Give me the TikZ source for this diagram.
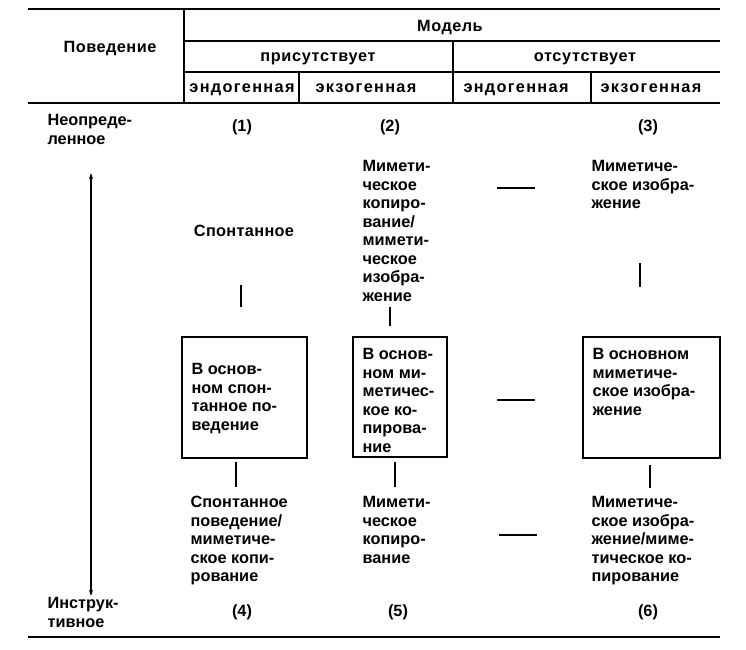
\documentclass[tikz,border=0pt]{standalone}
\usepackage{fontspec}
\setmainfont{Liberation Sans}
\usetikzlibrary{arrows.meta}
\begin{document}
\begin{tikzpicture}[x=1pt,y=-1pt,line width=1.2pt,
  bt/.style={inner sep=0pt,font=\fontsize{16.3}{18.5}\selectfont\bfseries,align=left,text height=11.5pt,text depth=3.5pt},
  hd/.style={bt,font=\fontsize{16.3}{18.5}\selectfont\bfseries\addfontfeature{LetterSpace=#1}},
  tl/.style={inner sep=0pt,font=\fontsize{16.3}{18.5}\selectfont\bfseries,align=left,anchor=north west},
  boxx/.style={draw,line width=2pt,inner sep=0pt,anchor=north west},
  thick rule/.style={line width=1.6pt},
  tick/.style={line width=1.3pt}]
\useasboundingbox (0,0) rectangle (746,649);
% table rules
\draw[thick rule] (28,9) -- (720,9);
\draw (184,9) -- (184,103);
\draw (184,41) -- (720,41);
\draw (453,41) -- (453,103);
\draw (184,72) -- (720,72);
\draw (299,72) -- (299,103);
\draw (591,72) -- (591,103);
\draw[thick rule] (28,103) -- (720,103);
\draw[thick rule] (28,637) -- (720,637);
% headers
\node[hd=3] (beh) at (110,48) {Поведение};
\node[hd=3] (model) at (450,27) {Модель};
\node[hd=4] (pres) at (318,57) {присутствует};
\node[hd=4] (abs) at (585,57) {отсутствует};
\node[hd=8] (en1) at (242,88) {эндогенная};
\node[hd=8] (ex1) at (366,88) {экзогенная};
\node[hd=8] (en2) at (516,88) {эндогенная};
\node[hd=8] (ex2) at (651,88) {экзогенная};
% row labels
\node[tl] (undef) at (47,114) {Неопреде-\\ленное};
\node[tl] (instr) at (47,597) {Инструк-\\тивное};
\node[bt] (n1) at (242,127) {(1)};
\node[bt] (n2) at (390,127) {(2)};
\node[bt] (n3) at (648,127) {(3)};
\node[bt] (n4) at (242,612) {(4)};
\node[bt] (n5) at (398,612) {(5)};
\node[bt] (n6) at (648,612) {(6)};
% axis arrow
\coordinate (atop) at (91,173);
\coordinate (abot) at (91,596);
\draw[line width=1.2pt,{Stealth[length=6pt,width=4pt]}-{Stealth[length=6pt,width=4pt]}] (atop) -- (abot);
% row 1
\node[hd=2] (sp) at (244,232) {Спонтанное};
\node[tl] (mc1) at (362,160) {Мимети-\\ческое\\копиро-\\вание/\\мимети-\\ческое\\изобра-\\жение};
\node[tl] (mi1) at (591,160) {Миметиче-\\ское изобра-\\жение};
% boxes
\node[boxx,minimum width=125pt,minimum height=121pt] (b1) at (181,336) {};
\node[tl] (b1t) at (191,363) {В основ-\\ном спон-\\танное по-\\ведение};
\node[boxx,minimum width=94pt,minimum height=120pt] (b2) at (352,336) {};
\node[tl] (b2t) at (362,348) {В основ-\\ном ми-\\метичес-\\кое ко-\\пирова-\\ние};
\node[boxx,minimum width=137pt,minimum height=121pt] (b3) at (582,336) {};
\node[tl] (b3t) at (592,348) {В основном\\миметиче-\\ское изобра-\\жение};
% row 3
\node[tl] (sp3) at (190,496) {Спонтанное\\поведение/\\миметиче-\\ское копи-\\рование};
\node[tl] (mc3) at (362,496) {Мимети-\\ческое\\копиро-\\вание};
\node[tl] (mi3) at (591,496) {Миметиче-\\ское изобра-\\жение/миме-\\тическое ко-\\пирование};
% vertical ticks
\coordinate (v1a) at (241,285); \coordinate (v1b) at (241,307);
\coordinate (v2a) at (390,307); \coordinate (v2b) at (390,326);
\coordinate (v3a) at (640,263); \coordinate (v3b) at (640,287);
\coordinate (v4a) at (236,462); \coordinate (v4b) at (236,487);
\coordinate (v5a) at (395,462); \coordinate (v5b) at (395,487);
\coordinate (v6a) at (650,465); \coordinate (v6b) at (650,488);
\draw[tick] (v1a) -- (v1b);
\draw[tick] (v2a) -- (v2b);
\draw[tick] (v3a) -- (v3b);
\draw[tick] (v4a) -- (v4b);
\draw[tick] (v5a) -- (v5b);
\draw[tick] (v6a) -- (v6b);
% dashes
\coordinate (d1a) at (497,188); \coordinate (d1b) at (535,188);
\coordinate (d2a) at (497,400); \coordinate (d2b) at (535,400);
\coordinate (d3a) at (499,535); \coordinate (d3b) at (537,535);
\draw[tick] (d1a) -- (d1b);
\draw[tick] (d2a) -- (d2b);
\draw[tick] (d3a) -- (d3b);
\end{tikzpicture}
\end{document}
